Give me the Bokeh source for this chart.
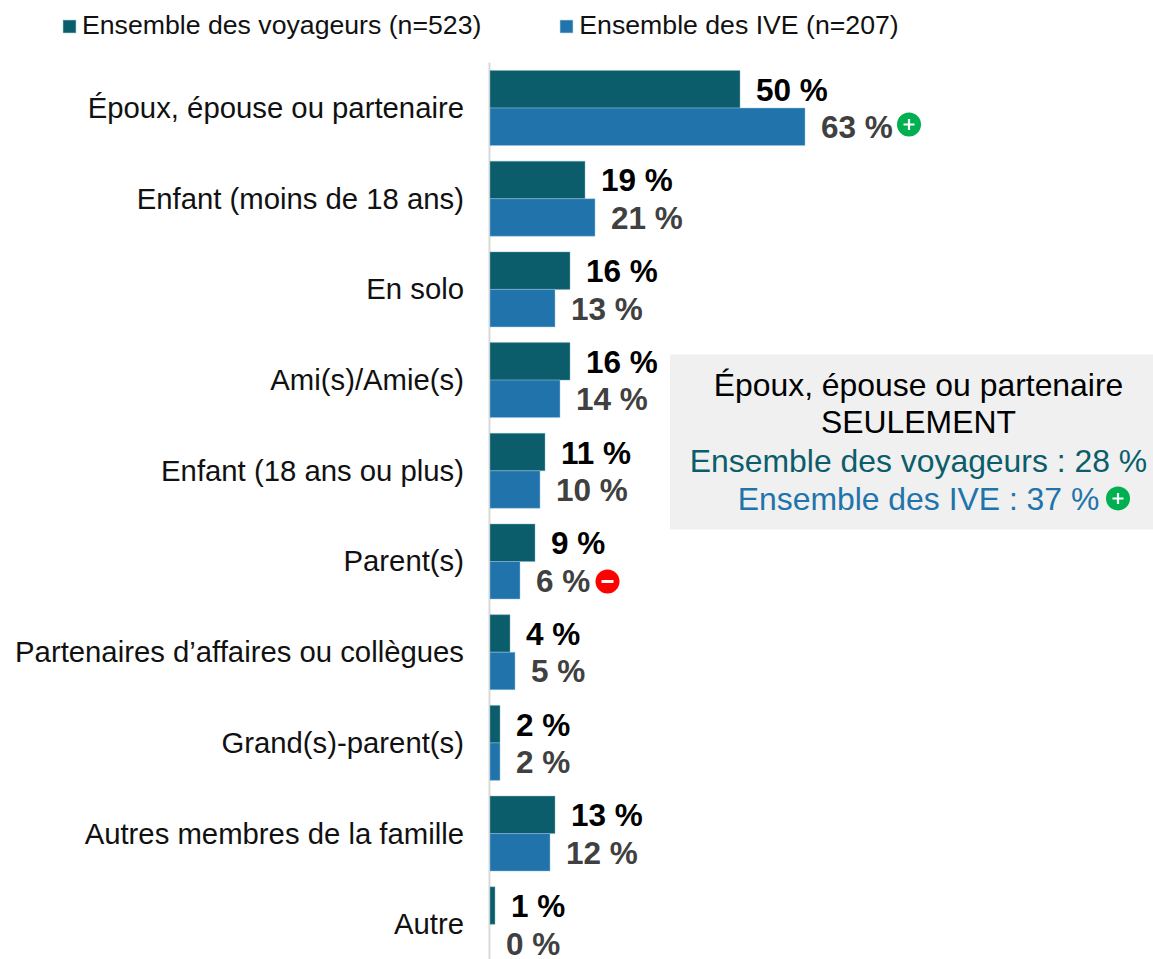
from bokeh.plotting import figure
from bokeh.models import ColumnDataSource, Range1d, FixedTicker, BoxAnnotation, Legend, LegendItem
from bokeh.core.properties import value
from bokeh.embed import file_html
from bokeh.resources import INLINE

categories = ["Époux, épouse ou partenaire", "Enfant (moins de 18 ans)", "En solo", "Ami(s)/Amie(s)",
              "Enfant (18 ans ou plus)", "Parent(s)", "Partenaires d’affaires ou collègues",
              "Grand(s)-parent(s)", "Autres membres de la famille", "Autre"]
voyageurs = [50, 19, 16, 16, 11, 9, 4, 2, 13, 1]
ive = [63, 21, 13, 14, 10, 6, 5, 2, 12, 0]
name_v = "Ensemble des voyageurs (n=523)"
name_i = "Ensemble des IVE (n=207)"
box_title = ["Époux, épouse ou partenaire", "SEULEMENT"]
box_voyageurs = 28
box_ive = 37

TEAL, BLUE, FONT = "#0B5D6B", "#2074AB", "Liberation Sans"
W, H = 1153, 959
X0, PX_X, ROW, R0 = 489.5, 5.0, 90.7, 107.5
BAR = 37.5 / ROW
LABEL_SHIFT = 0.006

def dx(px):  # page pixel -> data x
    return (px - X0) / PX_X

def dy(px):  # page pixel -> data y
    return (px - R0) / ROW

p = figure(width=W, height=H, output_backend="svg", toolbar_location=None,
           x_range=Range1d(dx(0), dx(W)), y_range=Range1d(dy(H), dy(0)),
           min_border_left=0, min_border_top=0, min_border_right=0, min_border_bottom=0,
           outline_line_color=None, background_fill_color=None, border_fill_color="white")
p.xaxis.visible = False
p.xgrid.visible = False
p.ygrid.visible = False
ya = p.yaxis[0]
ya.fixed_location = 0
tick_pos = [round(i - LABEL_SHIFT, 3) for i in range(len(categories))]
ya.ticker = FixedTicker(ticks=tick_pos)
ya.major_label_overrides = dict(zip(tick_pos, categories))
ya.major_label_text_font = FONT
ya.major_label_text_font_size = "29.3px"
ya.major_label_text_color = "#111111"
ya.major_label_standoff = 20
ya.axis_line_color = None
ya.major_tick_line_color = None
ya.minor_tick_line_color = None

p.segment(x0=[dx(489)], x1=[dx(489)], y0=[dy(62)], y1=[dy(H)], line_color="#D9D9D9", line_width=2, level="underlay")
p.add_layout(BoxAnnotation(left=dx(669.5), right=dx(W), top=dy(354), bottom=dy(529),
                           fill_color="#F0F0F0", fill_alpha=1, line_color=None, level="underlay"))

idx = list(range(len(categories)))
sv = ColumnDataSource(dict(y=[i - BAR / 2 for i in idx], v=voyageurs,
                           la=[0.45 if x else 0 for x in voyageurs], t=[f"{x} %" for x in voyageurs],
                           ty=[i - BAR / 2 + 0.006 for i in idx]))
si = ColumnDataSource(dict(y=[i + BAR / 2 for i in idx], v=ive,
                           la=[0.45 if x else 0 for x in ive], t=[f"{x} %" for x in ive],
                           ty=[i + BAR / 2 + 0.006 for i in idx]))
r1 = p.hbar(y="y", left=0, right="v", height=BAR, source=sv, fill_color=TEAL, line_color="#7FB3BD",
            line_alpha="la", line_width=1)
r2 = p.hbar(y="y", left=0, right="v", height=BAR, source=si, fill_color=BLUE, line_color="#9CC6E0",
            line_alpha="la", line_width=1)
for s, col in ((sv, "#000000"), (si, "#404040")):
    p.text(x="v", y="ty", text="t", source=s, x_offset=16, text_align="left", text_baseline="middle",
           text_font=value(FONT), text_font_size="31.5px", text_font_style="bold", text_color=col)

# box texts
tx = dx(918)
for txt, ypx, col in ((box_title[0], 384, "#000000"), (box_title[1], 421, "#000000"),
                      (f"Ensemble des voyageurs : {box_voyageurs} %", 460, TEAL),
                      (f"Ensemble des IVE : {box_ive} %", 498, BLUE)):
    p.text(x=[tx], y=[dy(ypx)], text=[txt], text_align="center", text_baseline="middle",
           text_font=value(FONT), text_font_size="31.9px", text_color=col)

# significance markers
plus_x = [dx(908.5), dx(1117.5)]
plus_y = [dy(124), dy(498)]
p.scatter(x=plus_x, y=plus_y, marker="circle", size=24, fill_color="#00B050", line_color=None)
p.scatter(x=plus_x, y=plus_y, marker="cross", size=11, fill_color=None, line_color="white", line_width=2.2)
p.scatter(x=[dx(607)], y=[dy(581)], marker="circle", size=24, fill_color="#FF0000", line_color=None)
p.scatter(x=[dx(607)], y=[dy(581)], marker="dash", size=12, fill_color=None, line_color="white", line_width=3)

leg = Legend(items=[LegendItem(label=name_v, renderers=[r1]), LegendItem(label=name_i, renderers=[r2])],
             orientation="horizontal", location=(61, H - 41), padding=0, margin=0, spacing=77,
             glyph_width=16, glyph_height=16, label_standoff=5, label_text_font=FONT,
             label_text_font_size="26.67px", label_text_color="#111111",
             background_fill_alpha=0, border_line_color=None, label_height=30)
p.add_layout(leg, "center")

open("out.html", "w").write(file_html(p, INLINE))
